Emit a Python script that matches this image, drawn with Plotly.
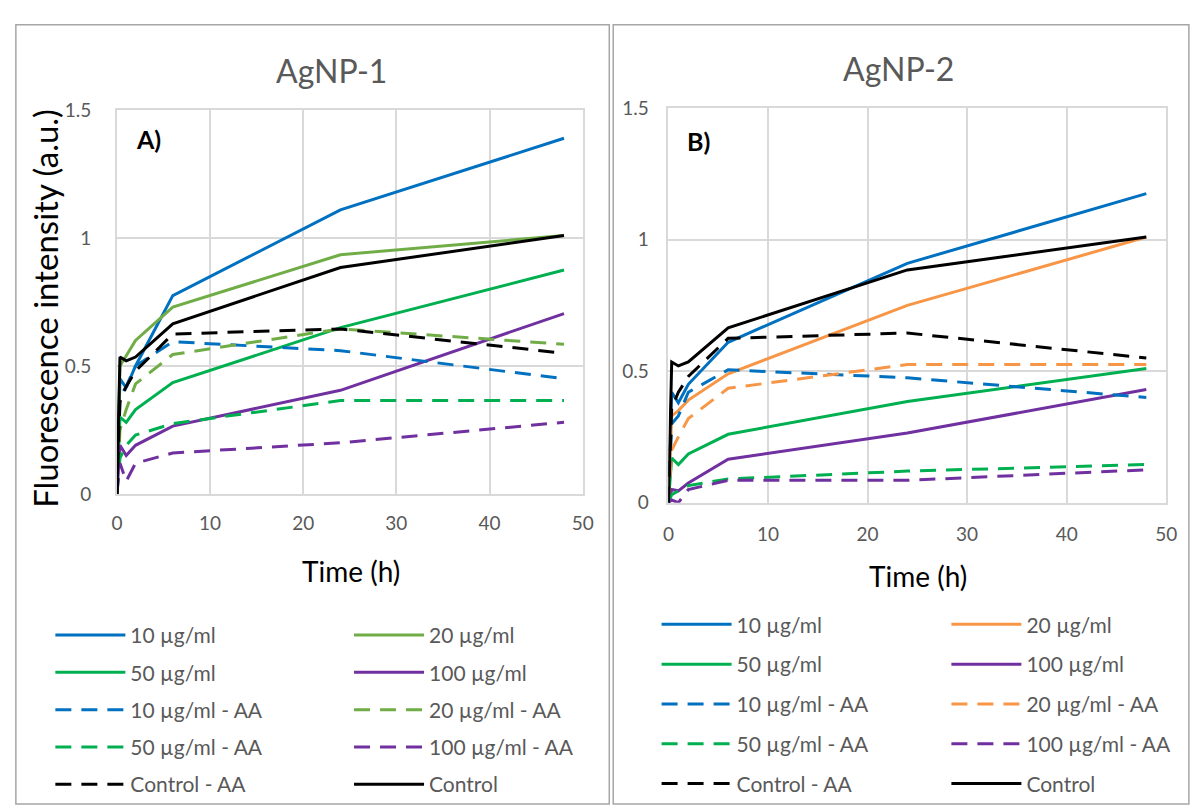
import plotly.graph_objects as go

# Sampling times (h)
time_h = [0, 0.33, 1, 2, 6, 24, 48]

# AgNP-1 fluorescence intensity (a.u.)
agnp1_10 = [0, 0.45, 0.415, 0.50, 0.775, 1.11, 1.39]
agnp1_20 = [0, 0.50, 0.54, 0.60, 0.73, 0.935, 1.01]
agnp1_50 = [0, 0.30, 0.28, 0.33, 0.435, 0.65, 0.875]
agnp1_100 = [0, 0.19, 0.15, 0.19, 0.265, 0.405, 0.705]
agnp1_10_aa = [0, 0.38, 0.42, 0.50, 0.595, 0.56, 0.45]
agnp1_20_aa = [0, 0.25, 0.33, 0.43, 0.545, 0.645, 0.585]
agnp1_50_aa = [0, 0.14, 0.19, 0.23, 0.275, 0.365, 0.365]
agnp1_100_aa = [0, 0.12, 0.05, 0.12, 0.16, 0.20, 0.28]

# AgNP-2 fluorescence intensity (a.u.)
agnp2_10 = [0, 0.42, 0.38, 0.45, 0.61, 0.91, 1.175]
agnp2_20 = [0, 0.33, 0.35, 0.39, 0.49, 0.75, 1.01]
agnp2_50 = [0, 0.17, 0.145, 0.185, 0.26, 0.385, 0.51]
agnp2_100 = [0, 0.05, 0.045, 0.075, 0.165, 0.265, 0.43]
agnp2_10_aa = [0, 0.30, 0.33, 0.42, 0.505, 0.475, 0.40]
agnp2_20_aa = [0, 0.20, 0.25, 0.32, 0.435, 0.525, 0.525]
agnp2_50_aa = [0, 0.03, 0.045, 0.065, 0.09, 0.12, 0.145]
agnp2_100_aa = [0, 0.01, 0.0, 0.05, 0.085, 0.085, 0.125]

# Controls (shared by both panels)
control = [0, 0.535, 0.52, 0.535, 0.665, 0.885, 1.01]
control_aa = [0, 0.36, 0.42, 0.48, 0.625, 0.645, 0.55]

x_ticks = [0, 10, 20, 30, 40, 50]
y_ticks = [0, 0.5, 1, 1.5]

BLUE = "#0070C0"
LGREEN = "#70AD47"
GREEN = "#00B050"
PURPLE = "#7030A0"
ORANGE = "#F79646"
BLACK = "#000000"
DASH = "16px,10px"
FONT = "Lato"
GREY_TXT = "#595959"

W, H = 1192, 811


def px(x):
    return x / W


def py(y):
    return (H - y) / H


# (label, values, colour, dashed, legend id)
panel1 = [
    ("10 µg/ml", agnp1_10, BLUE, False, "legend"),
    ("20 µg/ml", agnp1_20, LGREEN, False, "legend2"),
    ("50 µg/ml", agnp1_50, GREEN, False, "legend"),
    ("100 µg/ml", agnp1_100, PURPLE, False, "legend2"),
    ("10 µg/ml - AA", agnp1_10_aa, BLUE, True, "legend"),
    ("20 µg/ml - AA", agnp1_20_aa, LGREEN, True, "legend2"),
    ("50 µg/ml - AA", agnp1_50_aa, GREEN, True, "legend"),
    ("100 µg/ml - AA", agnp1_100_aa, PURPLE, True, "legend2"),
    ("Control - AA", control_aa, BLACK, True, "legend"),
    ("Control", control, BLACK, False, "legend2"),
]
panel2 = [
    ("10 µg/ml", agnp2_10, BLUE, False, "legend3"),
    ("20 µg/ml", agnp2_20, ORANGE, False, "legend4"),
    ("50 µg/ml", agnp2_50, GREEN, False, "legend3"),
    ("100 µg/ml", agnp2_100, PURPLE, False, "legend4"),
    ("10 µg/ml - AA", agnp2_10_aa, BLUE, True, "legend3"),
    ("20 µg/ml - AA", agnp2_20_aa, ORANGE, True, "legend4"),
    ("50 µg/ml - AA", agnp2_50_aa, GREEN, True, "legend3"),
    ("100 µg/ml - AA", agnp2_100_aa, PURPLE, True, "legend4"),
    ("Control - AA", control_aa, BLACK, True, "legend3"),
    ("Control", control, BLACK, False, "legend4"),
]

fig = go.Figure()
for series, xa, ya, tag in [(panel1, "x", "y", "p1"), (panel2, "x2", "y2", "p2")]:
    for name, vals, col, dashed, leg in series:
        fig.add_trace(go.Scatter(
            x=time_h, y=vals, name=name, mode="lines",
            line=dict(color=col, width=3, dash=DASH if dashed else "solid"),
            xaxis=xa, yaxis=ya, legend=leg, legendgroup=tag + name,
            hoverinfo="x+y+name",
        ))

axis_common = dict(
    showgrid=True, gridcolor="#D9D9D9", gridwidth=1.5,
    zeroline=False, showline=True, linecolor="#D9D9D9", linewidth=1.5,
    mirror=True, ticks="", tickfont=dict(family=FONT, size=19, color=GREY_TXT),
)

fig.update_layout(
    width=W, height=H,
    margin=dict(l=0, r=0, t=0, b=0),
    paper_bgcolor="white", plot_bgcolor="white",
    font=dict(family=FONT, color=GREY_TXT),
    xaxis=dict(domain=[px(112.5), px(585)], range=[0, 50], tickvals=x_ticks,
               ticklabelstandoff=12, anchor="y", **axis_common),
    yaxis=dict(domain=[py(496), py(101)], range=[0, 1.5], tickvals=y_ticks,
               ticklabelstandoff=20, anchor="x", **axis_common),
    xaxis2=dict(domain=[px(672), px(1177)], range=[0, 50], tickvals=x_ticks,
                ticklabelstandoff=14, anchor="y2", **axis_common),
    yaxis2=dict(domain=[py(505), py(99)], range=[0, 1.5], tickvals=y_ticks,
                ticklabelstandoff=14, anchor="x2", **axis_common),
)

legend_common = dict(
    orientation="v", xanchor="left", yanchor="top", itemwidth=70,
    font=dict(family=FONT, size=21, color=GREY_TXT),
    bgcolor="rgba(0,0,0,0)", borderwidth=0, itemclick=False, itemdoubleclick=False,
)
fig.update_layout(
    legend=dict(x=px(45), y=py(620.5), tracegroupgap=7, **legend_common),
    legend2=dict(x=px(348), y=py(620.5), tracegroupgap=7, **legend_common),
    legend3=dict(x=px(660), y=py(609.5), tracegroupgap=9.5, **legend_common),
    legend4=dict(x=px(954), y=py(609.5), tracegroupgap=9.5, **legend_common),
)

annotations = [
    dict(text="AgNP-1", x=px(330), y=py(60), font=dict(size=32, color=GREY_TXT)),
    dict(text="AgNP-2", x=px(905), y=py(58), font=dict(size=32, color=GREY_TXT)),
    dict(text="<b>A)</b>", x=px(145), y=py(131), font=dict(size=25, color=BLACK)),
    dict(text="<b>B)</b>", x=px(703), y=py(133), font=dict(size=25, color=BLACK)),
    dict(text="Time (h)", x=px(350), y=py(575), font=dict(size=28, color=BLACK)),
    dict(text="Time (h)", x=px(925), y=py(580), font=dict(size=28, color=BLACK)),
    dict(text="Fluorescence intensity (a.u.)", x=px(40), y=py(305), textangle=-90,
         font=dict(size=33, color=BLACK)),
]
for a in annotations:
    a.update(xref="paper", yref="paper", showarrow=False, xanchor="center", yanchor="middle")
    a["font"]["family"] = FONT
fig.update_layout(annotations=annotations)

# Panel frames
frame = dict(type="rect", xref="paper", yref="paper", line=dict(color="#A6A6A6", width=1.5),
             fillcolor="rgba(0,0,0,0)", layer="below")
fig.update_layout(shapes=[
    dict(x0=px(10), x1=px(612), y0=py(815), y1=py(13), **frame),
    dict(x0=px(616), x1=px(1200), y0=py(815), y1=py(13), **frame),
])

fig.write_html("out.html")
